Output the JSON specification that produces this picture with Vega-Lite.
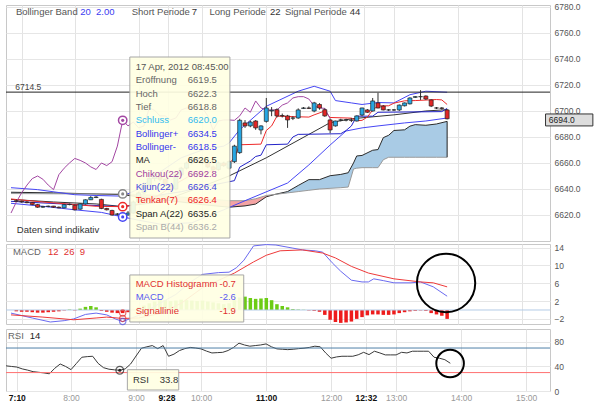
{
  "$schema": "https://vega.github.io/schema/vega-lite/v6.json",
  "background": "white",
  "padding": {"left": 3, "top": 2, "right": 0, "bottom": 0},
  "spacing": 0,
  "config": {"view": {"stroke": "#c8c8c8"}, "font": "Liberation Sans", "axis": {"labelOverlap": false, "labelBound": false, "minExtent": 0}},
  "resolve": {"scale": {"color": "independent", "fill": "independent"}},
  "datasets": {
    "candles": [
      {"m":425,"o":6631,"h":6632,"l":6630,"c":6630.5},
      {"m":430,"o":6630.5,"h":6631,"l":6629.5,"c":6630},
      {"m":435,"o":6630,"h":6630.8,"l":6629,"c":6629.5},
      {"m":440,"o":6629.5,"h":6630,"l":6627.5,"c":6628},
      {"m":445,"o":6628,"h":6628.5,"l":6625.5,"c":6626},
      {"m":450,"o":6626,"h":6627,"l":6625.5,"c":6626.5},
      {"m":455,"o":6626.5,"h":6627.2,"l":6626,"c":6626.8},
      {"m":460,"o":6626.8,"h":6627,"l":6625.5,"c":6626},
      {"m":465,"o":6626,"h":6626.5,"l":6625.2,"c":6625.5},
      {"m":470,"o":6625.5,"h":6628.5,"l":6625.2,"c":6628},
      {"m":475,"o":6628,"h":6628.8,"l":6627.5,"c":6628.2},
      {"m":480,"o":6627.5,"h":6628,"l":6623.5,"c":6624},
      {"m":485,"o":6624.5,"h":6629,"l":6624,"c":6628.5},
      {"m":490,"o":6628.5,"h":6632,"l":6628,"c":6631.7},
      {"m":495,"o":6631.7,"h":6634.5,"l":6631.5,"c":6633.5},
      {"m":500,"o":6633.5,"h":6634.5,"l":6633,"c":6633.8},
      {"m":505,"o":6632,"h":6632.5,"l":6624.5,"c":6625},
      {"m":510,"o":6625,"h":6625.5,"l":6623.5,"c":6624},
      {"m":515,"o":6623.5,"h":6624,"l":6619.5,"c":6620},
      {"m":520,"o":6620.5,"h":6621.5,"l":6619.5,"c":6620.8},
      {"m":525,"o":6619.5,"h":6622.3,"l":6618.8,"c":6620.0},
      {"m":530,"o":6620,"h":6623,"l":6619.5,"c":6621.5},
      {"m":535,"o":6621.5,"h":6631,"l":6621,"c":6630},
      {"m":540,"o":6630,"h":6638,"l":6629,"c":6637},
      {"m":545,"o":6637,"h":6645,"l":6636,"c":6643},
      {"m":550,"o":6643,"h":6649,"l":6642,"c":6648},
      {"m":555,"o":6648,"h":6652,"l":6646,"c":6650},
      {"m":560,"o":6650,"h":6651,"l":6646,"c":6647.5},
      {"m":565,"o":6647.5,"h":6648,"l":6642,"c":6643},
      {"m":570,"o":6643,"h":6644,"l":6638,"c":6639.5},
      {"m":575,"o":6640,"h":6652,"l":6639,"c":6651},
      {"m":580,"o":6651,"h":6657,"l":6650,"c":6656},
      {"m":585,"o":6656,"h":6661,"l":6655,"c":6660},
      {"m":590,"o":6660,"h":6664,"l":6659,"c":6663.5},
      {"m":595,"o":6663.5,"h":6664,"l":6661,"c":6662},
      {"m":600,"o":6662,"h":6663,"l":6659,"c":6660},
      {"m":605,"o":6660,"h":6661,"l":6656,"c":6657},
      {"m":610,"o":6657,"h":6658,"l":6654,"c":6655},
      {"m":615,"o":6655,"h":6661,"l":6654,"c":6660},
      {"m":620,"o":6660,"h":6661,"l":6657,"c":6658},
      {"m":625,"o":6656,"h":6662,"l":6655,"c":6661},
      {"m":630,"o":6661,"h":6674,"l":6660,"c":6673},
      {"m":635,"o":6668,"h":6694,"l":6667,"c":6692.8},
      {"m":640,"o":6690.8,"h":6693,"l":6687,"c":6688.5},
      {"m":645,"o":6688.5,"h":6692.5,"l":6687.5,"c":6691.5},
      {"m":650,"o":6692.3,"h":6693,"l":6685.5,"c":6687},
      {"m":655,"o":6685.4,"h":6689,"l":6682,"c":6688.5},
      {"m":660,"o":6692,"h":6710,"l":6691,"c":6702.3},
      {"m":665,"o":6700,"h":6703,"l":6696,"c":6700.5},
      {"m":670,"o":6701,"h":6702,"l":6695,"c":6696.2},
      {"m":675,"o":6696.5,"h":6698,"l":6695,"c":6696.2},
      {"m":680,"o":6696.2,"h":6697,"l":6687,"c":6693.1},
      {"m":685,"o":6694.5,"h":6696,"l":6693,"c":6694.6},
      {"m":690,"o":6694.6,"h":6702,"l":6694,"c":6700.8},
      {"m":695,"o":6702,"h":6703,"l":6701.5,"c":6702.3},
      {"m":700,"o":6702.3,"h":6703.5,"l":6701.5,"c":6702},
      {"m":705,"o":6700,"h":6707,"l":6699,"c":6706.2},
      {"m":710,"o":6705,"h":6706,"l":6701,"c":6702.3},
      {"m":715,"o":6701,"h":6702,"l":6695.5,"c":6696.2},
      {"m":720,"o":6693.1,"h":6694,"l":6683,"c":6685.4},
      {"m":725,"o":6688.5,"h":6692.5,"l":6688,"c":6692.3},
      {"m":730,"o":6693,"h":6694,"l":6692,"c":6693.1},
      {"m":735,"o":6693,"h":6694,"l":6692,"c":6693.1},
      {"m":740,"o":6693,"h":6694.5,"l":6691.5,"c":6692.8},
      {"m":745,"o":6692.3,"h":6696.5,"l":6692,"c":6696.2},
      {"m":750,"o":6696.9,"h":6702.5,"l":6696,"c":6702.3},
      {"m":755,"o":6700.8,"h":6701.5,"l":6698.5,"c":6699},
      {"m":760,"o":6700,"h":6710,"l":6699.5,"c":6707.7},
      {"m":765,"o":6706.2,"h":6714,"l":6702,"c":6702.3},
      {"m":770,"o":6703.8,"h":6704.5,"l":6700.5,"c":6700.8},
      {"m":775,"o":6700.8,"h":6701.5,"l":6700,"c":6700.8},
      {"m":780,"o":6700.8,"h":6701.5,"l":6700,"c":6700.8},
      {"m":785,"o":6700.8,"h":6705,"l":6700,"c":6704.5},
      {"m":790,"o":6704,"h":6706.5,"l":6703.5,"c":6706.2},
      {"m":795,"o":6705.5,"h":6710.5,"l":6705,"c":6710},
      {"m":800,"o":6710.5,"h":6711.5,"l":6710,"c":6711},
      {"m":805,"o":6711,"h":6716,"l":6708.5,"c":6711},
      {"m":810,"o":6711.5,"h":6712,"l":6708.5,"c":6709.2},
      {"m":815,"o":6708.5,"h":6709,"l":6703,"c":6703.8},
      {"m":820,"o":6702.3,"h":6703,"l":6701.5,"c":6702.3},
      {"m":825,"o":6702.3,"h":6703,"l":6701,"c":6702},
      {"m":830,"o":6700.8,"h":6701.5,"l":6693.5,"c":6694}
    ],
    "lines": [
      {"s":"BB+","m":420,"v":6641},{"s":"BB+","m":445,"v":6639.5},{"s":"BB+","m":480,"v":6635.6},{"s":"BB+","m":500,"v":6635},{"s":"BB+","m":525,"v":6634.5},{"s":"BB+","m":540,"v":6640},{"s":"BB+","m":560,"v":6653},{"s":"BB+","m":580,"v":6664},{"s":"BB+","m":600,"v":6670},{"s":"BB+","m":620,"v":6673},{"s":"BB+","m":625,"v":6675.4},{"s":"BB+","m":635,"v":6685.6},{"s":"BB+","m":660,"v":6703.6},{"s":"BB+","m":690,"v":6715.2},{"s":"BB+","m":705,"v":6719},{"s":"BB+","m":720,"v":6715.2},{"s":"BB+","m":725,"v":6708},{"s":"BB+","m":740,"v":6706.2},{"s":"BB+","m":750,"v":6705},{"s":"BB+","m":765,"v":6706.5},{"s":"BB+","m":780,"v":6706.2},{"s":"BB+","m":795,"v":6712.5},{"s":"BB+","m":810,"v":6715.2},{"s":"BB+","m":830,"v":6714.4},
      {"s":"BB-","m":420,"v":6629},{"s":"BB-","m":450,"v":6626.7},{"s":"BB-","m":480,"v":6624},{"s":"BB-","m":505,"v":6622},{"s":"BB-","m":525,"v":6618.5},{"s":"BB-","m":540,"v":6616},{"s":"BB-","m":560,"v":6613},{"s":"BB-","m":590,"v":6614},{"s":"BB-","m":620,"v":6624},{"s":"BB-","m":640,"v":6631},{"s":"BB-","m":680,"v":6644.6},{"s":"BB-","m":700,"v":6658.5},{"s":"BB-","m":720,"v":6673.8},{"s":"BB-","m":735,"v":6684.6},{"s":"BB-","m":750,"v":6687},{"s":"BB-","m":765,"v":6688.5},{"s":"BB-","m":790,"v":6690.8},{"s":"BB-","m":810,"v":6692.3},{"s":"BB-","m":830,"v":6694.6},
      {"s":"MA","m":420,"v":6632},{"s":"MA","m":460,"v":6630},{"s":"MA","m":500,"v":6628.5},{"s":"MA","m":525,"v":6626.5},{"s":"MA","m":560,"v":6630},{"s":"MA","m":600,"v":6642},{"s":"MA","m":625,"v":6650},{"s":"MA","m":660,"v":6664},{"s":"MA","m":700,"v":6682},{"s":"MA","m":720,"v":6691},{"s":"MA","m":740,"v":6694},{"s":"MA","m":780,"v":6697},{"s":"MA","m":810,"v":6700},{"s":"MA","m":830,"v":6701},
      {"s":"Kijun","m":420,"v":6630.5},{"s":"Kijun","m":480,"v":6628},{"s":"Kijun","m":525,"v":6626.4},{"s":"Kijun","m":540,"v":6628.4},{"s":"Kijun","m":560,"v":6635.4},{"s":"Kijun","m":580,"v":6637.9},{"s":"Kijun","m":600,"v":6641.5},{"s":"Kijun","m":630,"v":6646.4},{"s":"Kijun","m":635,"v":6656.8},{"s":"Kijun","m":645,"v":6661.5},{"s":"Kijun","m":650,"v":6665},{"s":"Kijun","m":655,"v":6666},{"s":"Kijun","m":660,"v":6674},{"s":"Kijun","m":680,"v":6674.5},{"s":"Kijun","m":685,"v":6680},{"s":"Kijun","m":690,"v":6682},{"s":"Kijun","m":730,"v":6682.5},{"s":"Kijun","m":735,"v":6685},{"s":"Kijun","m":740,"v":6688.5},{"s":"Kijun","m":745,"v":6696},{"s":"Kijun","m":760,"v":6696},{"s":"Kijun","m":765,"v":6699},{"s":"Kijun","m":825,"v":6699.5},{"s":"Kijun","m":830,"v":6702},
      {"s":"Tenkan","m":420,"v":6632.3},{"s":"Tenkan","m":450,"v":6630},{"s":"Tenkan","m":480,"v":6628},{"s":"Tenkan","m":500,"v":6626.7},{"s":"Tenkan","m":525,"v":6626.4},{"s":"Tenkan","m":540,"v":6628.4},{"s":"Tenkan","m":560,"v":6635.8},{"s":"Tenkan","m":575,"v":6644},{"s":"Tenkan","m":590,"v":6651},{"s":"Tenkan","m":605,"v":6652.5},{"s":"Tenkan","m":620,"v":6659},{"s":"Tenkan","m":625,"v":6659.5},{"s":"Tenkan","m":630,"v":6664},{"s":"Tenkan","m":635,"v":6674},{"s":"Tenkan","m":655,"v":6674.5},{"s":"Tenkan","m":660,"v":6685},{"s":"Tenkan","m":665,"v":6688.5},{"s":"Tenkan","m":670,"v":6696},{"s":"Tenkan","m":700,"v":6695.3},{"s":"Tenkan","m":705,"v":6697},{"s":"Tenkan","m":715,"v":6700},{"s":"Tenkan","m":720,"v":6695},{"s":"Tenkan","m":740,"v":6694.5},{"s":"Tenkan","m":745,"v":6692.5},{"s":"Tenkan","m":750,"v":6692.8},{"s":"Tenkan","m":755,"v":6695.3},{"s":"Tenkan","m":760,"v":6700.8},{"s":"Tenkan","m":765,"v":6703.8},{"s":"Tenkan","m":775,"v":6704},{"s":"Tenkan","m":780,"v":6706},{"s":"Tenkan","m":790,"v":6707.8},{"s":"Tenkan","m":800,"v":6708},{"s":"Tenkan","m":820,"v":6708.8},{"s":"Tenkan","m":825,"v":6708.5},{"s":"Tenkan","m":830,"v":6705},
      {"s":"Chikou","m":420,"v":6621.5},{"s":"Chikou","m":425,"v":6630},{"s":"Chikou","m":430,"v":6637},{"s":"Chikou","m":435,"v":6643},{"s":"Chikou","m":440,"v":6648},{"s":"Chikou","m":445,"v":6650},{"s":"Chikou","m":450,"v":6647.5},{"s":"Chikou","m":455,"v":6643},{"s":"Chikou","m":460,"v":6639.5},{"s":"Chikou","m":465,"v":6651},{"s":"Chikou","m":470,"v":6656},{"s":"Chikou","m":475,"v":6660},{"s":"Chikou","m":480,"v":6663.5},{"s":"Chikou","m":485,"v":6662},{"s":"Chikou","m":490,"v":6660},{"s":"Chikou","m":495,"v":6657},{"s":"Chikou","m":500,"v":6655},{"s":"Chikou","m":505,"v":6660},{"s":"Chikou","m":510,"v":6658},{"s":"Chikou","m":515,"v":6661},{"s":"Chikou","m":520,"v":6673},{"s":"Chikou","m":525,"v":6692.8},{"s":"Chikou","m":530,"v":6688.5},{"s":"Chikou","m":535,"v":6691.5},{"s":"Chikou","m":540,"v":6687},{"s":"Chikou","m":545,"v":6688.5},{"s":"Chikou","m":550,"v":6702.3},{"s":"Chikou","m":555,"v":6700.5},{"s":"Chikou","m":560,"v":6696.2},{"s":"Chikou","m":565,"v":6696.2},{"s":"Chikou","m":570,"v":6693.1},{"s":"Chikou","m":575,"v":6694.6},{"s":"Chikou","m":580,"v":6700.8},{"s":"Chikou","m":585,"v":6702.3},{"s":"Chikou","m":590,"v":6702},{"s":"Chikou","m":595,"v":6706.2},{"s":"Chikou","m":600,"v":6702.3},{"s":"Chikou","m":605,"v":6696.2},{"s":"Chikou","m":610,"v":6685.4},{"s":"Chikou","m":615,"v":6692.3},{"s":"Chikou","m":620,"v":6693.1},{"s":"Chikou","m":625,"v":6693.1},{"s":"Chikou","m":630,"v":6692.8},{"s":"Chikou","m":635,"v":6696.2},{"s":"Chikou","m":640,"v":6702.3},{"s":"Chikou","m":645,"v":6699},{"s":"Chikou","m":650,"v":6707.7},{"s":"Chikou","m":655,"v":6702.3},{"s":"Chikou","m":660,"v":6700.8},{"s":"Chikou","m":665,"v":6700.8},{"s":"Chikou","m":670,"v":6700.8},{"s":"Chikou","m":675,"v":6704.5},{"s":"Chikou","m":680,"v":6706.2},{"s":"Chikou","m":685,"v":6710},{"s":"Chikou","m":690,"v":6711},{"s":"Chikou","m":695,"v":6711},{"s":"Chikou","m":700,"v":6709.2},{"s":"Chikou","m":705,"v":6703.8},{"s":"Chikou","m":710,"v":6702.3},{"s":"Chikou","m":715,"v":6702},{"s":"Chikou","m":720,"v":6694}
    ],
    "cloud": [
      {"seg":1,"phase":"up","m":420,"a":6637.5,"b":6636.5},
      {"seg":1,"phase":"up","m":460,"a":6637,"b":6636.3},
      {"seg":1,"phase":"up","m":500,"a":6636.2,"b":6636.2},
      {"seg":2,"phase":"down","m":500,"a":6636.2,"b":6636.2},
      {"seg":2,"phase":"down","m":525,"a":6635.6,"b":6636.2},
      {"seg":2,"phase":"down","m":560,"a":6632,"b":6635},
      {"seg":2,"phase":"down","m":600,"a":6628,"b":6632.5},
      {"seg":2,"phase":"down","m":625,"a":6626,"b":6631},
      {"seg":2,"phase":"down","m":640,"a":6627,"b":6631},
      {"seg":2,"phase":"down","m":650,"a":6628.4,"b":6632.5},
      {"seg":2,"phase":"down","m":660,"a":6634,"b":6635},
      {"seg":2,"phase":"down","m":668,"a":6635.8,"b":6635.8},
      {"seg":3,"phase":"up","m":668,"a":6635.8,"b":6635.8},
      {"seg":3,"phase":"up","m":680,"a":6638,"b":6637},
      {"seg":3,"phase":"up","m":690,"a":6642.7,"b":6638},
      {"seg":3,"phase":"up","m":700,"a":6647.2,"b":6639},
      {"seg":3,"phase":"up","m":710,"a":6647.2,"b":6640},
      {"seg":3,"phase":"up","m":720,"a":6650.2,"b":6640.5},
      {"seg":3,"phase":"up","m":730,"a":6651.2,"b":6641},
      {"seg":3,"phase":"up","m":737,"a":6652.5,"b":6641.5},
      {"seg":3,"phase":"up","m":742,"a":6660,"b":6655.4},
      {"seg":3,"phase":"up","m":745,"a":6665.4,"b":6656},
      {"seg":3,"phase":"up","m":750,"a":6665.8,"b":6656.4},
      {"seg":3,"phase":"up","m":760,"a":6669.8,"b":6656.4},
      {"seg":3,"phase":"up","m":765,"a":6670.3,"b":6656.4},
      {"seg":3,"phase":"up","m":770,"a":6679.5,"b":6662.5},
      {"seg":3,"phase":"up","m":775,"a":6681.3,"b":6664.4},
      {"seg":3,"phase":"up","m":780,"a":6685,"b":6664.4},
      {"seg":3,"phase":"up","m":790,"a":6685.5,"b":6664.4},
      {"seg":3,"phase":"up","m":795,"a":6688.3,"b":6664.4},
      {"seg":3,"phase":"up","m":800,"a":6689.5,"b":6664.4},
      {"seg":3,"phase":"up","m":810,"a":6689,"b":6664.4},
      {"seg":3,"phase":"up","m":820,"a":6690,"b":6664.4},
      {"seg":3,"phase":"up","m":830,"a":6692,"b":6664.4}
    ],
    "hover": [
      {"s":"Chikou","v":6692.8},{"s":"SpanB","v":6636.2},{"s":"Tenkan","v":6626.4},{"s":"BB-","v":6618.5}
    ],
    "tip": [
      {"k":0,"label":"17 Apr, 2012 08:45:00","val":""},
      {"k":1,"label":"Eröffnung","val":"6619.5"},
      {"k":2,"label":"Hoch","val":"6622.3"},
      {"k":3,"label":"Tief","val":"6618.8"},
      {"k":4,"label":"Schluss","val":"6620.0"},
      {"k":5,"label":"Bollinger+","val":"6634.5"},
      {"k":6,"label":"Bollinger-","val":"6618.5"},
      {"k":7,"label":"MA","val":"6626.5"},
      {"k":8,"label":"Chikou(22)","val":"6692.8"},
      {"k":9,"label":"Kijun(22)","val":"6626.4"},
      {"k":10,"label":"Tenkan(7)","val":"6626.4"},
      {"k":11,"label":"Span A(22)","val":"6635.6"},
      {"k":12,"label":"Span B(44)","val":"6636.2"}
    ],
    "mtip": [
      {"k":0,"label":"MACD Histogramm","val":"-0.7"},
      {"k":1,"label":"MACD","val":"-2.6"},
      {"k":2,"label":"Signallinie","val":"-1.9"}
    ],
    "ml": [
      {"s":"MACD","m":420,"v":-0.7},{"s":"MACD","m":440,"v":-1.8},{"s":"MACD","m":457,"v":-2.7},{"s":"MACD","m":470,"v":-2.4},{"s":"MACD","m":479,"v":-2.0},{"s":"MACD","m":490,"v":-1.0},{"s":"MACD","m":500,"v":-0.7},{"s":"MACD","m":510,"v":-1.1},{"s":"MACD","m":518,"v":-2.0},{"s":"MACD","m":525,"v":-2.6},{"s":"MACD","m":540,"v":-1.2},{"s":"MACD","m":560,"v":1.5},{"s":"MACD","m":575,"v":3.5},{"s":"MACD","m":590,"v":6.5},{"s":"MACD","m":600,"v":8.0},{"s":"MACD","m":615,"v":8.4},{"s":"MACD","m":625,"v":8.5},{"s":"MACD","m":632,"v":9.5},{"s":"MACD","m":639,"v":11.2},{"s":"MACD","m":648,"v":14.4},{"s":"MACD","m":660,"v":14.7},{"s":"MACD","m":669,"v":14.6},{"s":"MACD","m":685,"v":13.9},{"s":"MACD","m":694,"v":13.5},{"s":"MACD","m":706,"v":13.3},{"s":"MACD","m":713,"v":13.0},{"s":"MACD","m":722,"v":10.6},{"s":"MACD","m":730,"v":8.7},{"s":"MACD","m":740,"v":6.7},{"s":"MACD","m":750,"v":6.3},{"s":"MACD","m":756,"v":6.3},{"s":"MACD","m":761,"v":7.0},{"s":"MACD","m":770,"v":6.6},{"s":"MACD","m":780,"v":6.1},{"s":"MACD","m":796,"v":6.1},{"s":"MACD","m":805,"v":6.3},{"s":"MACD","m":817,"v":5.2},{"s":"MACD","m":830,"v":3.1},
      {"s":"Signal","m":420,"v":-1.1},{"s":"Signal","m":450,"v":-1.6},{"s":"Signal","m":479,"v":-2.2},{"s":"Signal","m":500,"v":-1.8},{"s":"Signal","m":510,"v":-1.6},{"s":"Signal","m":525,"v":-1.9},{"s":"Signal","m":540,"v":-1.8},{"s":"Signal","m":560,"v":-0.8},{"s":"Signal","m":580,"v":1.5},{"s":"Signal","m":600,"v":5.0},{"s":"Signal","m":620,"v":7.2},{"s":"Signal","m":630,"v":8.3},{"s":"Signal","m":648,"v":10.8},{"s":"Signal","m":660,"v":12.3},{"s":"Signal","m":673,"v":13.3},{"s":"Signal","m":694,"v":13.5},{"s":"Signal","m":713,"v":12.8},{"s":"Signal","m":725,"v":11.7},{"s":"Signal","m":740,"v":9.8},{"s":"Signal","m":756,"v":8.3},{"s":"Signal","m":780,"v":7.0},{"s":"Signal","m":805,"v":6.3},{"s":"Signal","m":817,"v":6.1},{"s":"Signal","m":830,"v":5.2}
    ],
    "hist": [
      {"m":425,"h":-0.3},{"m":430,"h":-0.4},{"m":435,"h":-0.4},{"m":440,"h":-0.5},{"m":445,"h":-0.6},{"m":450,"h":-0.6},{"m":455,"h":-0.5},{"m":460,"h":-0.4},{"m":465,"h":-0.3},{"m":470,"h":-0.1},{"m":475,"h":0.1},{"m":480,"h":-0.1},{"m":485,"h":0.3},{"m":490,"h":0.7},{"m":495,"h":0.9},{"m":500,"h":0.6},{"m":505,"h":-0.2},{"m":510,"h":-0.4},{"m":515,"h":-0.6},{"m":520,"h":-0.7},{"m":525,"h":-0.7},
      {"m":530,"h":-0.5},{"m":535,"h":0.05},{"m":540,"h":0.6},{"m":545,"h":1.0},{"m":550,"h":1.5},{"m":555,"h":1.9},{"m":560,"h":2.2},{"m":565,"h":2.2},{"m":570,"h":2.0},{"m":575,"h":2.1},{"m":580,"h":2.3},{"m":585,"h":2.2},{"m":590,"h":2.1},{"m":595,"h":2.0},{"m":600,"h":2.1},{"m":605,"h":1.9},{"m":610,"h":1.7},{"m":615,"h":1.5},{"m":620,"h":1.3},
      {"m":625,"h":1.5},{"m":630,"h":2.2},{"m":635,"h":2.8},{"m":640,"h":3.0},{"m":645,"h":2.7},{"m":650,"h":2.5},{"m":655,"h":2.6},{"m":660,"h":2.7},{"m":665,"h":2.2},{"m":670,"h":1.3},{"m":675,"h":0.9},{"m":680,"h":0.6},{"m":685,"h":0.2},{"m":690,"h":0.1},{"m":695,"h":0.05},
      {"m":700,"h":-0.1},{"m":705,"h":-0.2},{"m":710,"h":-0.4},{"m":715,"h":-1.1},{"m":720,"h":-2.2},{"m":725,"h":-2.7},{"m":730,"h":-2.9},{"m":735,"h":-2.8},{"m":740,"h":-2.6},{"m":745,"h":-2.0},{"m":750,"h":-1.6},{"m":755,"h":-1.2},{"m":760,"h":-1.0},{"m":765,"h":-1.0},{"m":770,"h":-1.1},{"m":775,"h":-1.1},{"m":780,"h":-1.0},{"m":785,"h":-0.7},{"m":790,"h":-0.5},{"m":795,"h":-0.3},{"m":800,"h":-0.2},{"m":805,"h":-0.1},{"m":810,"h":-0.2},{"m":815,"h":-0.7},{"m":820,"h":-1.0},{"m":825,"h":-1.3},{"m":830,"h":-2.0}
    ],
    "rsi": [
      {"m":420,"v":41},{"m":425,"v":40},{"m":430,"v":39},{"m":435,"v":36},{"m":440,"v":34},{"m":445,"v":31.5},{"m":450,"v":30.5},{"m":455,"v":29.5},{"m":460,"v":28},{"m":465,"v":37},{"m":470,"v":44},{"m":475,"v":40},{"m":480,"v":34.8},{"m":485,"v":45},{"m":490,"v":55},{"m":495,"v":56},{"m":500,"v":56.6},{"m":505,"v":45},{"m":510,"v":38},{"m":515,"v":35.5},{"m":520,"v":34.5},{"m":525,"v":33.8},
      {"m":530,"v":36},{"m":535,"v":44},{"m":540,"v":57},{"m":545,"v":69.7},{"m":550,"v":72},{"m":555,"v":74},{"m":560,"v":69},{"m":565,"v":74},{"m":570,"v":56.6},{"m":575,"v":60},{"m":580,"v":65.8},{"m":585,"v":69},{"m":590,"v":71},{"m":595,"v":70},{"m":600,"v":68.6},{"m":605,"v":65},{"m":610,"v":62},{"m":615,"v":62.5},{"m":620,"v":63},
      {"m":625,"v":66},{"m":630,"v":71},{"m":635,"v":77.9},{"m":640,"v":75},{"m":645,"v":73},{"m":650,"v":74},{"m":655,"v":75},{"m":660,"v":76.7},{"m":665,"v":72},{"m":670,"v":68.6},{"m":675,"v":68},{"m":680,"v":67.4},{"m":685,"v":68},{"m":690,"v":69},{"m":695,"v":69.7},{"m":700,"v":71},{"m":705,"v":73},{"m":710,"v":72},{"m":715,"v":62},{"m":720,"v":53.4},{"m":725,"v":55.5},{"m":730,"v":56.6},{"m":735,"v":56.6},{"m":740,"v":56.6},{"m":745,"v":59},{"m":750,"v":63},{"m":755,"v":59.3},{"m":760,"v":64.8},{"m":765,"v":62},{"m":770,"v":58.8},{"m":775,"v":58.8},{"m":780,"v":58.8},{"m":785,"v":63},{"m":790,"v":62},{"m":795,"v":64.8},{"m":800,"v":64.8},{"m":805,"v":64.8},{"m":810,"v":64.8},{"m":815,"v":55},{"m":820,"v":53.4},{"m":825,"v":51},{"m":830,"v":45.2}
    ]
  },
  "vconcat": [
    {
      "width": 544,
      "height": 236,
      "layer": [
        {
          "layer": [
            {
              "data": {"name": "cloud"},
              "mark": {"type": "area", "opacity": 1},
              "encoding": {
                "x": {"field": "m", "type": "quantitative", "scale": {"domain": [420, 922], "nice": false, "zero": false}, "axis": {"values": [430,480,540,568,600,660,720,752,780,840,900], "tickCount": 30, "labels": false, "ticks": false, "tickSize": 0, "labelPadding": 0, "domain": false, "grid": true, "gridColor": "#e3e3e3", "title": null, "minExtent": 0, "maxExtent": 0}},
                "y": {"field": "a", "type": "quantitative", "scale": {"domain": [6600, 6781.5], "nice": false, "zero": false}, "axis": {"orient": "right", "values": [6620,6640,6660,6680,6700,6720,6740,6760,6780], "tickCount": 30, "format": ".1f", "ticks": false, "domain": false, "grid": true, "gridColor": "#e6e6e6", "labelFontSize": 8.5, "labelColor": "#555555", "labelPadding": 4, "labelOverlap": false, "labelBound": false, "title": null}},
                "y2": {"field": "b"},
                "color": {"field": "phase", "type": "nominal", "scale": {"domain": ["BB+","BB-","MA","Kijun","Tenkan","Chikou","SpanB","up","down"], "range": ["#4646f5","#4646f5","#333333","#2323c8","#ee2a2a","#a347a3","#888888","#a9cbe5","#f4a3a3"]}, "legend": null},
                "detail": {"field": "seg"}
              }
            },
            {
              "data": {"name": "cloud"},
              "mark": {"type": "line", "color": "#2b2b2b", "strokeWidth": 1},
              "encoding": {"x": {"field": "m", "type": "quantitative"}, "y": {"field": "a", "type": "quantitative"}}
            },
            {
              "data": {"name": "cloud"},
              "mark": {"type": "line", "color": "#9a9a9a", "strokeWidth": 1},
              "encoding": {"x": {"field": "m", "type": "quantitative"}, "y": {"field": "b", "type": "quantitative"}}
            },
            {
              "data": {"name": "cloud"},
              "transform": [{"filter": "datum.m == 830"}],
              "mark": {"type": "rule", "color": "#222222", "strokeWidth": 1},
              "encoding": {"x": {"field": "m", "type": "quantitative"}, "y": {"field": "a", "type": "quantitative"}, "y2": {"field": "b"}}
            },
            {
              "data": {"name": "lines"},
              "mark": {"type": "line", "strokeWidth": 1},
              "encoding": {"x": {"field": "m", "type": "quantitative"}, "y": {"field": "v", "type": "quantitative"}, "color": {"field": "s", "type": "nominal", "legend": null}}
            },
            {
              "data": {"values": [{}]},
              "mark": {"type": "rule", "color": "#222222", "strokeWidth": 1},
              "encoding": {"y": {"datum": 6714.5, "type": "quantitative"}}
            },
            {
              "data": {"values": [{}]},
              "mark": {"type": "text", "align": "left", "baseline": "middle", "fontSize": 8.5, "color": "#444444", "text": "6714.5"},
              "encoding": {"x": {"datum": 424, "type": "quantitative"}, "y": {"datum": 6718.5, "type": "quantitative"}}
            },
            {
              "data": {"name": "candles"},
              "mark": {"type": "rule", "color": "#333333", "strokeWidth": 1},
              "encoding": {"x": {"field": "m", "type": "quantitative"}, "y": {"field": "l", "type": "quantitative"}, "y2": {"field": "h"}}
            },
            {
              "data": {"name": "candles"},
              "mark": {"type": "bar", "size": 4, "stroke": "#222222", "strokeWidth": 0.7},
              "encoding": {
                "x": {"field": "m", "type": "quantitative"},
                "y": {"field": "o", "type": "quantitative"},
                "y2": {"field": "c"},
                "color": {"condition": {"test": "datum.c >= datum.o", "value": "#27a6e2"}, "value": "#e22626"}
              }
            },
            {
              "data": {"name": "hover"},
              "mark": {"type": "point", "shape": "circle", "filled": false, "fill": "white", "fillOpacity": 1, "size": 70, "strokeWidth": 1.5},
              "encoding": {"x": {"datum": 525, "type": "quantitative"}, "y": {"field": "v", "type": "quantitative"}, "color": {"field": "s", "type": "nominal", "legend": null}}
            },
            {
              "data": {"name": "hover"},
              "mark": {"type": "point", "shape": "circle", "filled": true, "size": 10, "opacity": 1},
              "encoding": {"x": {"datum": 525, "type": "quantitative"}, "y": {"field": "v", "type": "quantitative"}, "color": {"field": "s", "type": "nominal", "legend": null}}
            },
            {
              "data": {"values": [{}]},
              "mark": {"type": "text", "align": "left", "baseline": "middle", "fontSize": 9.5, "color": "#555555", "text": "Bollinger Band"},
              "encoding": {"x": {"datum": 424.6, "type": "quantitative"}, "y": {"datum": 6776.5, "type": "quantitative"}}
            },
            {
              "data": {"values": [{}]},
              "mark": {"type": "text", "align": "left", "baseline": "middle", "fontSize": 9.5, "color": "#3b3bf0", "text": "20\u00a0\u00a02.00"},
              "encoding": {"x": {"datum": 485, "type": "quantitative"}, "y": {"datum": 6776.5, "type": "quantitative"}}
            },
            {
              "data": {"values": [{}]},
              "mark": {"type": "text", "align": "left", "baseline": "middle", "fontSize": 9.5, "color": "#555555", "text": "Short Periode"},
              "encoding": {"x": {"datum": 533.5, "type": "quantitative"}, "y": {"datum": 6776.5, "type": "quantitative"}}
            },
            {
              "data": {"values": [{}]},
              "mark": {"type": "text", "align": "left", "baseline": "middle", "fontSize": 9.5, "color": "#333333", "text": "7"},
              "encoding": {"x": {"datum": 590, "type": "quantitative"}, "y": {"datum": 6776.5, "type": "quantitative"}}
            },
            {
              "data": {"values": [{}]},
              "mark": {"type": "text", "align": "left", "baseline": "middle", "fontSize": 9.5, "color": "#555555", "text": "Long Periode"},
              "encoding": {"x": {"datum": 606.5, "type": "quantitative"}, "y": {"datum": 6776.5, "type": "quantitative"}}
            },
            {
              "data": {"values": [{}]},
              "mark": {"type": "text", "align": "left", "baseline": "middle", "fontSize": 9.5, "color": "#333333", "text": "22"},
              "encoding": {"x": {"datum": 663.5, "type": "quantitative"}, "y": {"datum": 6776.5, "type": "quantitative"}}
            },
            {
              "data": {"values": [{}]},
              "mark": {"type": "text", "align": "left", "baseline": "middle", "fontSize": 9.5, "color": "#555555", "text": "Signal Periode"},
              "encoding": {"x": {"datum": 677.5, "type": "quantitative"}, "y": {"datum": 6776.5, "type": "quantitative"}}
            },
            {
              "data": {"values": [{}]},
              "mark": {"type": "text", "align": "left", "baseline": "middle", "fontSize": 9.5, "color": "#333333", "text": "44"},
              "encoding": {"x": {"datum": 738.5, "type": "quantitative"}, "y": {"datum": 6776.5, "type": "quantitative"}}
            },
            {
              "data": {"values": [{}]},
              "mark": {"type": "text", "align": "left", "baseline": "middle", "fontSize": 9.5, "color": "#333333", "text": "Daten sind indikativ"},
              "encoding": {"x": {"datum": 425.5, "type": "quantitative"}, "y": {"datum": 6608.5, "type": "quantitative"}}
            },
            {
              "data": {"values": [{}]},
              "mark": {"type": "rect", "fill": "#dddddd", "stroke": "#333333", "strokeWidth": 1},
              "encoding": {"x": {"datum": 922.5, "type": "quantitative"}, "x2": {"datum": 967}, "y": {"datum": 6697.7, "type": "quantitative"}, "y2": {"datum": 6688.5}}
            },
            {
              "data": {"values": [{}]},
              "mark": {"type": "text", "align": "left", "baseline": "middle", "fontSize": 8.5, "color": "#222222", "text": "6694.0"},
              "encoding": {"x": {"datum": 925.5, "type": "quantitative"}, "y": {"datum": 6693.1, "type": "quantitative"}}
            },
            {
              "data": {"values": [{}]},
              "mark": {"type": "rect", "fill": "#ffffe3", "stroke": "#a0a0a0", "strokeWidth": 1, "opacity": 0.92},
              "encoding": {"x": {"datum": 531.7, "type": "quantitative"}, "x2": {"datum": 625.8}, "y": {"datum": 6741.5, "type": "quantitative"}, "y2": {"datum": 6602.3}}
            }
          ]
        },
        {
          "data": {"name": "tip"},
          "encoding": {
            "y": {"field": "k", "type": "quantitative", "scale": {"domain": [-4.65, 13.05], "reverse": true, "nice": false, "zero": false}, "axis": null},
            "fill": {"field": "label", "type": "nominal", "scale": {"domain": ["17 Apr, 2012 08:45:00","Eröffnung","Hoch","Tief","Schluss","Bollinger+","Bollinger-","MA","Chikou(22)","Kijun(22)","Tenkan(7)","Span A(22)","Span B(44)"], "range": ["#555555","#666666","#666666","#666666","#33bbee","#3535ee","#3535ee","#222222","#a040a0","#4444dd","#ee2222","#222222","#aaaaaa"]}, "legend": null}
          },
          "layer": [
            {
              "mark": {"type": "text", "align": "left", "baseline": "middle", "fontSize": 9.5},
              "encoding": {"x": {"datum": 537.2, "type": "quantitative"}, "text": {"field": "label"}}
            },
            {
              "mark": {"type": "text", "align": "left", "baseline": "middle", "fontSize": 9.5},
              "encoding": {"x": {"datum": 586.2, "type": "quantitative"}, "text": {"field": "val"}}
            }
          ]
        }
      ],
      "resolve": {"scale": {"y": "independent"}}
    },
    {
      "width": 544,
      "height": 80,
      "layer": [
        {
          "layer": [
            {
              "data": {"name": "hist"},
              "mark": {"type": "bar", "size": 3.5},
              "encoding": {
                "x": {"field": "m", "type": "quantitative", "scale": {"domain": [420, 922], "nice": false, "zero": false}, "axis": {"values": [430,480,540,568,600,660,720,752,780,840,900], "tickCount": 30, "labels": false, "ticks": false, "tickSize": 0, "labelPadding": 0, "domain": false, "grid": true, "gridColor": "#e3e3e3", "title": null, "minExtent": 0, "maxExtent": 0}},
                "y": {"field": "h", "type": "quantitative", "scale": {"domain": [-3.15, 14.83], "nice": false, "zero": false}, "axis": {"orient": "right", "values": [-2,2,6,10,14], "tickCount": 30, "format": "d", "ticks": false, "domain": false, "grid": true, "gridColor": "#e6e6e6", "labelFontSize": 8.5, "labelColor": "#555555", "labelPadding": 4, "labelOverlap": false, "labelBound": false, "title": null}},
                "y2": {"datum": 0},
                "color": {"condition": {"test": "datum.h >= 0", "value": "#6ccc14"}, "value": "#ee1c1c"}
              }
            },
            {
              "data": {"values": [{}]},
              "mark": {"type": "rule", "color": "#b4cbe6", "strokeWidth": 1},
              "encoding": {"y": {"datum": 0, "type": "quantitative"}}
            },
            {
              "data": {"name": "ml"},
              "transform": [{"filter": "datum.s == 'MACD'"}],
              "mark": {"type": "line", "color": "#6a6af0", "strokeWidth": 1},
              "encoding": {"x": {"field": "m", "type": "quantitative"}, "y": {"field": "v", "type": "quantitative"}}
            },
            {
              "data": {"name": "ml"},
              "transform": [{"filter": "datum.s == 'Signal'"}],
              "mark": {"type": "line", "color": "#ee3a3a", "strokeWidth": 1},
              "encoding": {"x": {"field": "m", "type": "quantitative"}, "y": {"field": "v", "type": "quantitative"}}
            },
            {
              "data": {"values": [{"v": -0.7}, {"v": -1.9}]},
              "mark": {"type": "point", "shape": "circle", "filled": false, "color": "#e03030", "size": 40, "strokeWidth": 1.2},
              "encoding": {"x": {"datum": 525, "type": "quantitative"}, "y": {"field": "v", "type": "quantitative"}}
            },
            {
              "data": {"values": [{"v": -2.6}]},
              "mark": {"type": "point", "shape": "circle", "filled": false, "color": "#5050e0", "size": 40, "strokeWidth": 1.2},
              "encoding": {"x": {"datum": 525, "type": "quantitative"}, "y": {"field": "v", "type": "quantitative"}}
            },
            {
              "data": {"values": [{}]},
              "mark": {"type": "text", "align": "left", "baseline": "middle", "fontSize": 9.5, "color": "#666666", "text": "MACD"},
              "encoding": {"x": {"datum": 421.8, "type": "quantitative"}, "y": {"datum": 13.1, "type": "quantitative"}}
            },
            {
              "data": {"values": [{}]},
              "mark": {"type": "text", "align": "left", "baseline": "middle", "fontSize": 9.5, "color": "#e03030", "text": "12\u00a0\u00a026\u00a0\u00a09"},
              "encoding": {"x": {"datum": 454.8, "type": "quantitative"}, "y": {"datum": 13.1, "type": "quantitative"}}
            },
            {
              "data": {"values": [{}]},
              "mark": {"type": "point", "shape": "circle", "filled": false, "color": "#000000", "strokeWidth": 2, "size": 3400, "opacity": 1},
              "encoding": {"x": {"datum": 829, "type": "quantitative"}, "y": {"datum": 6.07, "type": "quantitative"}}
            },
            {
              "data": {"values": [{}]},
              "mark": {"type": "rect", "fill": "#ffffe3", "stroke": "#a0a0a0", "strokeWidth": 1, "opacity": 0.92},
              "encoding": {"x": {"datum": 531.7, "type": "quantitative"}, "x2": {"datum": 638.8}, "y": {"datum": 7.87, "type": "quantitative"}, "y2": {"datum": -2.7}}
            }
          ]
        },
        {
          "data": {"name": "mtip"},
          "encoding": {
            "y": {"field": "k", "type": "quantitative", "scale": {"domain": [-3, 3], "reverse": true, "nice": false, "zero": false}, "axis": null},
            "fill": {"field": "label", "type": "nominal", "scale": {"domain": ["MACD Histogramm","MACD","Signallinie"], "range": ["#e03030","#5a5af0","#e03030"]}, "legend": null}
          },
          "layer": [
            {
              "mark": {"type": "text", "align": "left", "baseline": "middle", "fontSize": 9.5},
              "encoding": {"x": {"datum": 537.2, "type": "quantitative"}, "text": {"field": "label"}}
            },
            {
              "mark": {"type": "text", "align": "right", "baseline": "middle", "fontSize": 9.5},
              "encoding": {"x": {"datum": 631.4, "type": "quantitative"}, "text": {"field": "val"}}
            }
          ]
        }
      ],
      "resolve": {"scale": {"y": "independent"}}
    },
    {
      "width": 544,
      "height": 62,
      "layer": [
        {
          "data": {"name": "rsi"},
          "mark": {"type": "line", "color": "#3a3a3a", "strokeWidth": 1},
          "encoding": {
            "x": {"field": "m", "type": "quantitative", "scale": {"domain": [420, 922], "nice": false, "zero": false}, "axis": {"values": [430,480,540,568,600,660,720,752,780,840,900], "tickCount": 30, "labelExpr": "floor(datum.value/60) + ':' + (datum.value % 60 < 10 ? '0' : '') + (datum.value % 60)", "ticks": false, "tickSize": 0, "domain": false, "grid": true, "gridColor": "#e3e3e3", "title": null, "labelFontSize": 8.5, "labelPadding": 2, "labelFlush": false, "labelOverlap": false, "labelColor": {"condition": {"test": "datum.value == 430 || datum.value == 568 || datum.value == 660 || datum.value == 752", "value": "#111111"}, "value": "#999999"}, "labelFontWeight": {"condition": {"test": "datum.value == 430 || datum.value == 568 || datum.value == 660 || datum.value == 752", "value": "bold"}, "value": "normal"}}},
            "y": {"field": "v", "type": "quantitative", "scale": {"domain": [0, 101], "nice": false, "zero": false}, "axis": {"orient": "right", "values": [0,40,80], "tickCount": 30, "ticks": false, "domain": false, "grid": true, "gridColor": "#e6e6e6", "labelFontSize": 8.5, "labelColor": "#555555", "labelPadding": 4, "labelOverlap": false, "labelBound": false, "title": null}}
          }
        },
        {
          "data": {"values": [{}]},
          "mark": {"type": "rule", "color": "#4f80a8", "strokeWidth": 1},
          "encoding": {"y": {"datum": 70, "type": "quantitative"}}
        },
        {
          "data": {"values": [{}]},
          "mark": {"type": "rule", "color": "#ff7070", "strokeWidth": 1},
          "encoding": {"y": {"datum": 30, "type": "quantitative"}}
        },
        {
          "data": {"values": [{}]},
          "mark": {"type": "point", "shape": "circle", "filled": false, "color": "#222222", "size": 60, "strokeWidth": 1.2},
          "encoding": {"x": {"datum": 525, "type": "quantitative"}, "y": {"datum": 33.8, "type": "quantitative"}}
        },
        {
          "data": {"values": [{}]},
          "mark": {"type": "point", "shape": "circle", "filled": true, "color": "#222222", "size": 10, "opacity": 1},
          "encoding": {"x": {"datum": 525, "type": "quantitative"}, "y": {"datum": 33.8, "type": "quantitative"}}
        },
        {
          "data": {"values": [{}]},
          "mark": {"type": "text", "align": "left", "baseline": "middle", "fontSize": 9.5, "color": "#666666", "text": "RSI"},
          "encoding": {"x": {"datum": 421.8, "type": "quantitative"}, "y": {"datum": 89, "type": "quantitative"}}
        },
        {
          "data": {"values": [{}]},
          "mark": {"type": "text", "align": "left", "baseline": "middle", "fontSize": 9.5, "color": "#222222", "text": "14"},
          "encoding": {"x": {"datum": 441.9, "type": "quantitative"}, "y": {"datum": 89, "type": "quantitative"}}
        },
        {
          "data": {"values": [{}]},
          "mark": {"type": "point", "shape": "circle", "filled": false, "color": "#000000", "strokeWidth": 2, "size": 760, "opacity": 1},
          "encoding": {"x": {"datum": 829.8, "type": "quantitative"}, "y": {"datum": 44.9, "type": "quantitative"}}
        },
        {
          "data": {"values": [{}]},
          "mark": {"type": "rect", "fill": "#ffffe3", "stroke": "#a0a0a0", "strokeWidth": 1, "opacity": 0.92},
          "encoding": {"x": {"datum": 532, "type": "quantitative"}, "x2": {"datum": 579.4}, "y": {"datum": 34.7, "type": "quantitative"}, "y2": {"datum": 1.6}}
        },
        {
          "data": {"values": [{}]},
          "mark": {"type": "text", "align": "left", "baseline": "middle", "fontSize": 9.5, "color": "#333333", "text": "RSI"},
          "encoding": {"x": {"datum": 537.2, "type": "quantitative"}, "y": {"datum": 18, "type": "quantitative"}}
        },
        {
          "data": {"values": [{}]},
          "mark": {"type": "text", "align": "left", "baseline": "middle", "fontSize": 9.5, "color": "#333333", "text": "33.8"},
          "encoding": {"x": {"datum": 561.9, "type": "quantitative"}, "y": {"datum": 18, "type": "quantitative"}}
        }
      ]
    }
  ]
}
